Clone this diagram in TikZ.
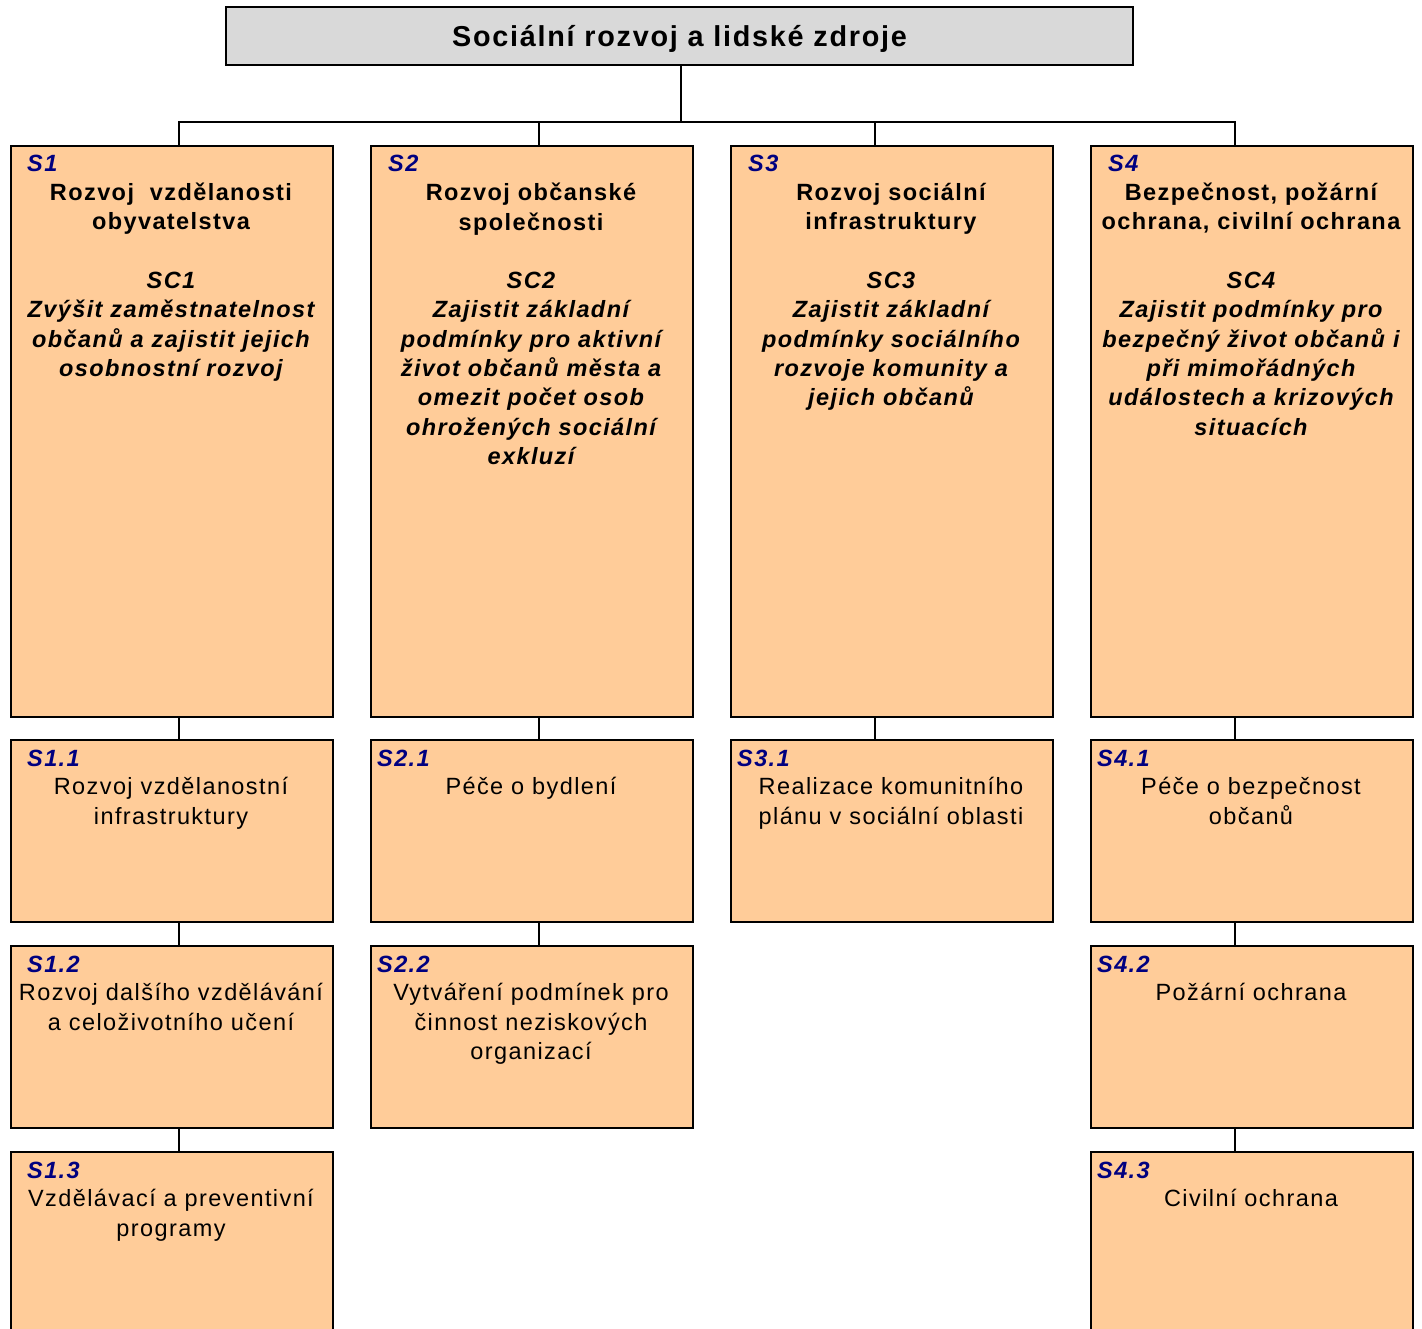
\documentclass[tikz,border=0pt]{standalone}
\usepackage{fontspec}
\setmainfont{Liberation Sans}[LetterSpace=6]
\definecolor{peach}{RGB}{255,204,153}
\definecolor{titlegray}{RGB}{217,217,217}
\definecolor{lblblue}{RGB}{0,0,128}
\newcommand\bodysize{\fontsize{23.5}{29.3}\selectfont}
\newcommand\firststrut{\rule{0pt}{20pt}}
\tikzset{
  box/.style={draw=black, line width=1.8pt, fill=peach, minimum width=322pt, inner sep=0pt, anchor=north west},
  titlebox/.style={draw=black, line width=1.8pt, fill=titlegray, minimum width=907pt, minimum height=58pt, inner sep=0pt, text depth=0pt, font=\fontsize{28.8}{30}\selectfont\bfseries},
  conn/.style={draw=black, line width=1.8pt},
  txt/.style={anchor=north, inner sep=0pt, align=center, font=\bodysize},
  goaltxt/.style={anchor=north, inner sep=0pt, align=center, font=\bodysize\bfseries},
  lbl/.style={anchor=base west, inner sep=0pt, text=lblblue, font=\bodysize\bfseries\itshape}
}
\begin{document}
\begin{tikzpicture}[x=1pt,y=-1pt]
\useasboundingbox (0,0) rectangle (1422,1329);
\clip (0,0) rectangle (1422,1329);
\fill[white] (0,0) rectangle (1422,1329);

% title
\node[titlebox] (title) at (679.5,36) {Sociální rozvoj a lidské zdroje};

% row 1 boxes
\node[box, minimum height=571pt] (s1) at (10,145) {};
\node[box, minimum height=571pt] (s2) at (370,145) {};
\node[box, minimum height=571pt] (s3) at (730,145) {};
\node[box, minimum height=571pt] (s4) at (1090,145) {};
% row 2
\node[box, minimum height=182pt] (s11) at (10,739) {};
\node[box, minimum height=182pt] (s21) at (370,739) {};
\node[box, minimum height=182pt] (s31) at (730,739) {};
\node[box, minimum height=182pt] (s41) at (1090,739) {};
% row 3
\node[box, minimum height=182pt] (s12) at (10,945) {};
\node[box, minimum height=182pt] (s22) at (370,945) {};
\node[box, minimum height=182pt] (s42) at (1090,945) {};
% row 4
\node[box, minimum height=250pt] (s13) at (10,1151) {};
\node[box, minimum height=250pt] (s43) at (1090,1151) {};

% connectors
\coordinate (bus) at (681,122);
\draw[conn] (bus |- title.south) -- (bus);
\draw[conn] ([xshift=7pt]s1.north) |- (bus) -| ([xshift=-17pt]s4.north);
\draw[conn] ([xshift=7pt]s2.north) -- ([xshift=7pt]s2.north |- bus);
\draw[conn] ([xshift=-17pt]s3.north) -- ([xshift=-17pt]s3.north |- bus);
\draw[conn] ([xshift=7pt]s1.south) -- ([xshift=7pt]s11.north);
\draw[conn] ([xshift=7pt]s11.south) -- ([xshift=7pt]s12.north);
\draw[conn] ([xshift=7pt]s12.south) -- ([xshift=7pt]s13.north);
\draw[conn] ([xshift=7pt]s2.south) -- ([xshift=7pt]s21.north);
\draw[conn] ([xshift=7pt]s21.south) -- ([xshift=7pt]s22.north);
\draw[conn] ([xshift=-17pt]s3.south) -- ([xshift=-17pt]s31.north);
\draw[conn] ([xshift=-17pt]s4.south) -- ([xshift=-17pt]s41.north);
\draw[conn] ([xshift=-17pt]s41.south) -- ([xshift=-17pt]s42.north);
\draw[conn] ([xshift=-17pt]s42.south) -- ([xshift=-17pt]s43.north);

% labels
\node[lbl] (l1) at (27,172) {S1};
\node[lbl] (l2) at (388,172) {S2};
\node[lbl] (l3) at (748,172) {S3};
\node[lbl] (l4) at (1108,172) {S4};
\node[lbl] (l11) at (27,766) {S1.1};
\node[lbl] (l21) at (377,766) {S2.1};
\node[lbl] (l31) at (737,766) {S3.1};
\node[lbl] (l41) at (1097,766) {S4.1};
\node[lbl] (l12) at (27,972) {S1.2};
\node[lbl] (l22) at (377,972) {S2.2};
\node[lbl] (l42) at (1097,972) {S4.2};
\node[lbl] (l13) at (27,1178) {S1.3};
\node[lbl] (l43) at (1097,1178) {S4.3};

% row 1 texts
\node[goaltxt] (t1) at (171,180.5) {\firststrut Rozvoj\ \ vzdělanosti\\obyvatelstva\\[29.3pt]\itshape SC1\\\itshape Zvýšit zaměstnatelnost\\\itshape občanů a zajistit jejich\\\itshape osobnostní rozvoj};
\node[goaltxt] (t2) at (531,180.5) {\firststrut Rozvoj občanské\\společnosti\\[29.3pt]\itshape SC2\\\itshape Zajistit základní\\\itshape podmínky pro aktivní\\\itshape život občanů města a\\\itshape omezit počet osob\\\itshape ohrožených sociální\\\itshape exkluzí};
\node[goaltxt] (t3) at (891,180.5) {\firststrut Rozvoj sociální\\infrastruktury\\[29.3pt]\itshape SC3\\\itshape Zajistit základní\\\itshape podmínky sociálního\\\itshape rozvoje komunity a\\\itshape jejich občanů};
\node[goaltxt] (t4) at (1251,180.5) {\firststrut Bezpečnost, požární\\ochrana, civilní ochrana\\[29.3pt]\itshape SC4\\\itshape Zajistit podmínky pro\\\itshape bezpečný život občanů i\\\itshape při mimořádných\\\itshape událostech a krizových\\\itshape situacích};

% row 2 texts
\node[txt] (t11) at (171,774.5) {\firststrut Rozvoj vzdělanostní\\infrastruktury};
\node[txt] (t21) at (531,774.5) {\firststrut Péče o bydlení};
\node[txt] (t31) at (891,774.5) {\firststrut Realizace komunitního\\plánu v sociální oblasti};
\node[txt] (t41) at (1251,774.5) {\firststrut Péče o bezpečnost\\občanů};
% row 3 texts
\node[txt] (t12) at (171,980.5) {\firststrut Rozvoj dalšího vzdělávání\\a celoživotního učení};
\node[txt] (t22) at (531,980.5) {\firststrut Vytváření podmínek pro\\činnost neziskových\\organizací};
\node[txt] (t42) at (1251,980.5) {\firststrut Požární ochrana};
% row 4 texts
\node[txt] (t13) at (171,1186.5) {\firststrut Vzdělávací a preventivní\\programy};
\node[txt] (t43) at (1251,1186.5) {\firststrut Civilní ochrana};
\end{tikzpicture}
\end{document}
